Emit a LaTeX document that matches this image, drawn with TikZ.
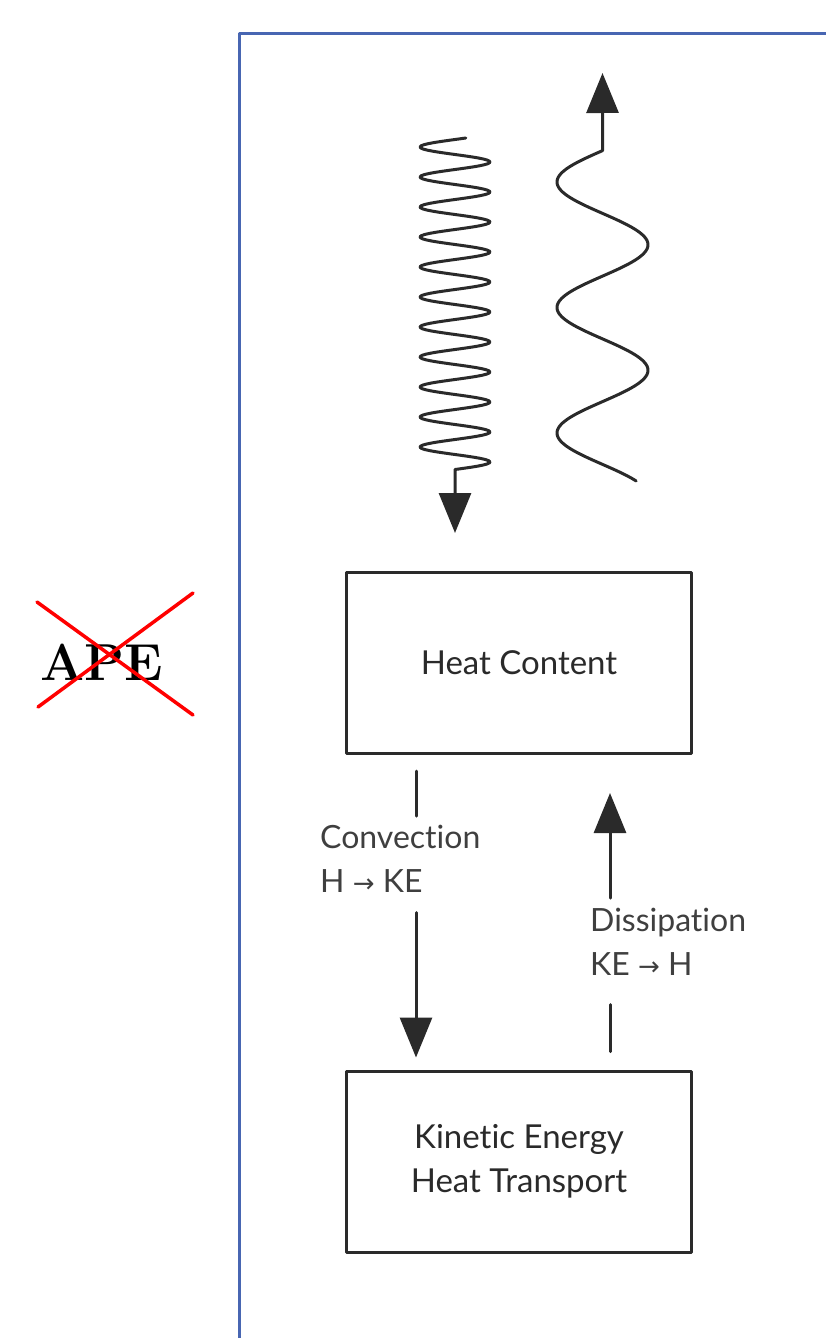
\documentclass[tikz,border=0pt]{standalone}
\usepackage{fontspec}
\newfontfamily\labelfont[Ligatures=NoCommon]{Lato}
\newfontfamily\arrowfont{DejaVu Sans}
\usetikzlibrary{arrows.meta}
\definecolor{ink}{HTML}{2A2A2A}
\definecolor{frameblue}{RGB}{72,102,178}
\newcommand{\flowarrow}{ {\arrowfont\fontsize{26}{26}\selectfont →} }

\begin{document}
\begin{tikzpicture}[
    x=1pt, y=-1pt, line cap=round, line join=round,
    box/.style={draw=ink, line width=3pt, minimum width=345pt, minimum height=181pt,
      align=center, text=ink, font=\labelfont\fontsize{33}{44}\selectfont},
    lab/.style={inner sep=0pt, align=left, text=ink!90, font=\labelfont\fontsize{32}{44}\selectfont},
    link/.style={line width=3pt, ink},
    flow/.style={link, -{Triangle[width=32pt, length=40pt]}},
  ]
  \useasboundingbox (0,0) rectangle (826,1338);
  \clip (0,0) rectangle (826,1338);

  % --- frame ---
  \draw[frameblue, line width=3pt] (239,1400) -- (239,34) -- (900,34);

  % --- APE, struck out ---
  \node[font=\bfseries\fontsize{52}{52}\selectfont, anchor=base, inner sep=0pt] (ape) at (102,680) {APE};
  \draw[red, line width=3.5pt] (37,602) -- (193,715);
  \draw[red, line width=3.5pt] (38,707) -- (193,593);

  % --- incoming short-wave ---
  \draw[flow] plot[domain=138:469.5, samples=300] ({455-35*cos(12*(\x-147))}, \x) -- (455,533);

  % --- outgoing long-wave ---
  \draw[flow] plot[domain=481:150.6, samples=200] ({602.5-45.5*cos(360/125.5*(\x-433))}, \x) -- (602.5,73);

  % --- boxes ---
  \node[box] (heat) at (519,663) {Heat Content};
  \node[box] (ke) at (519,1161.5) {Kinetic Energy\\Heat Transport};

  % --- convection: H to KE ---
  \node[lab, anchor=north west] (conv) at (320,825) {Convection\\H\flowarrow KE};
  \draw[link] ([shift={(-103,16)}]heat.south) -- ([shift={(-103,61)}]heat.south);
  \draw[flow] ([shift={(-103,-157)}]ke.north) -- ([shift={(-103,-12)}]ke.north);

  % --- dissipation: KE to H ---
  \node[lab, anchor=north west] (diss) at (590,908) {Dissipation\\KE\flowarrow H};
  \draw[link] ([shift={(91,-18)}]ke.north) -- ([shift={(91,-65)}]ke.north);
  \draw[flow] ([shift={(91,143)}]heat.south) -- ([shift={(91,38)}]heat.south);
\end{tikzpicture}
\end{document}
